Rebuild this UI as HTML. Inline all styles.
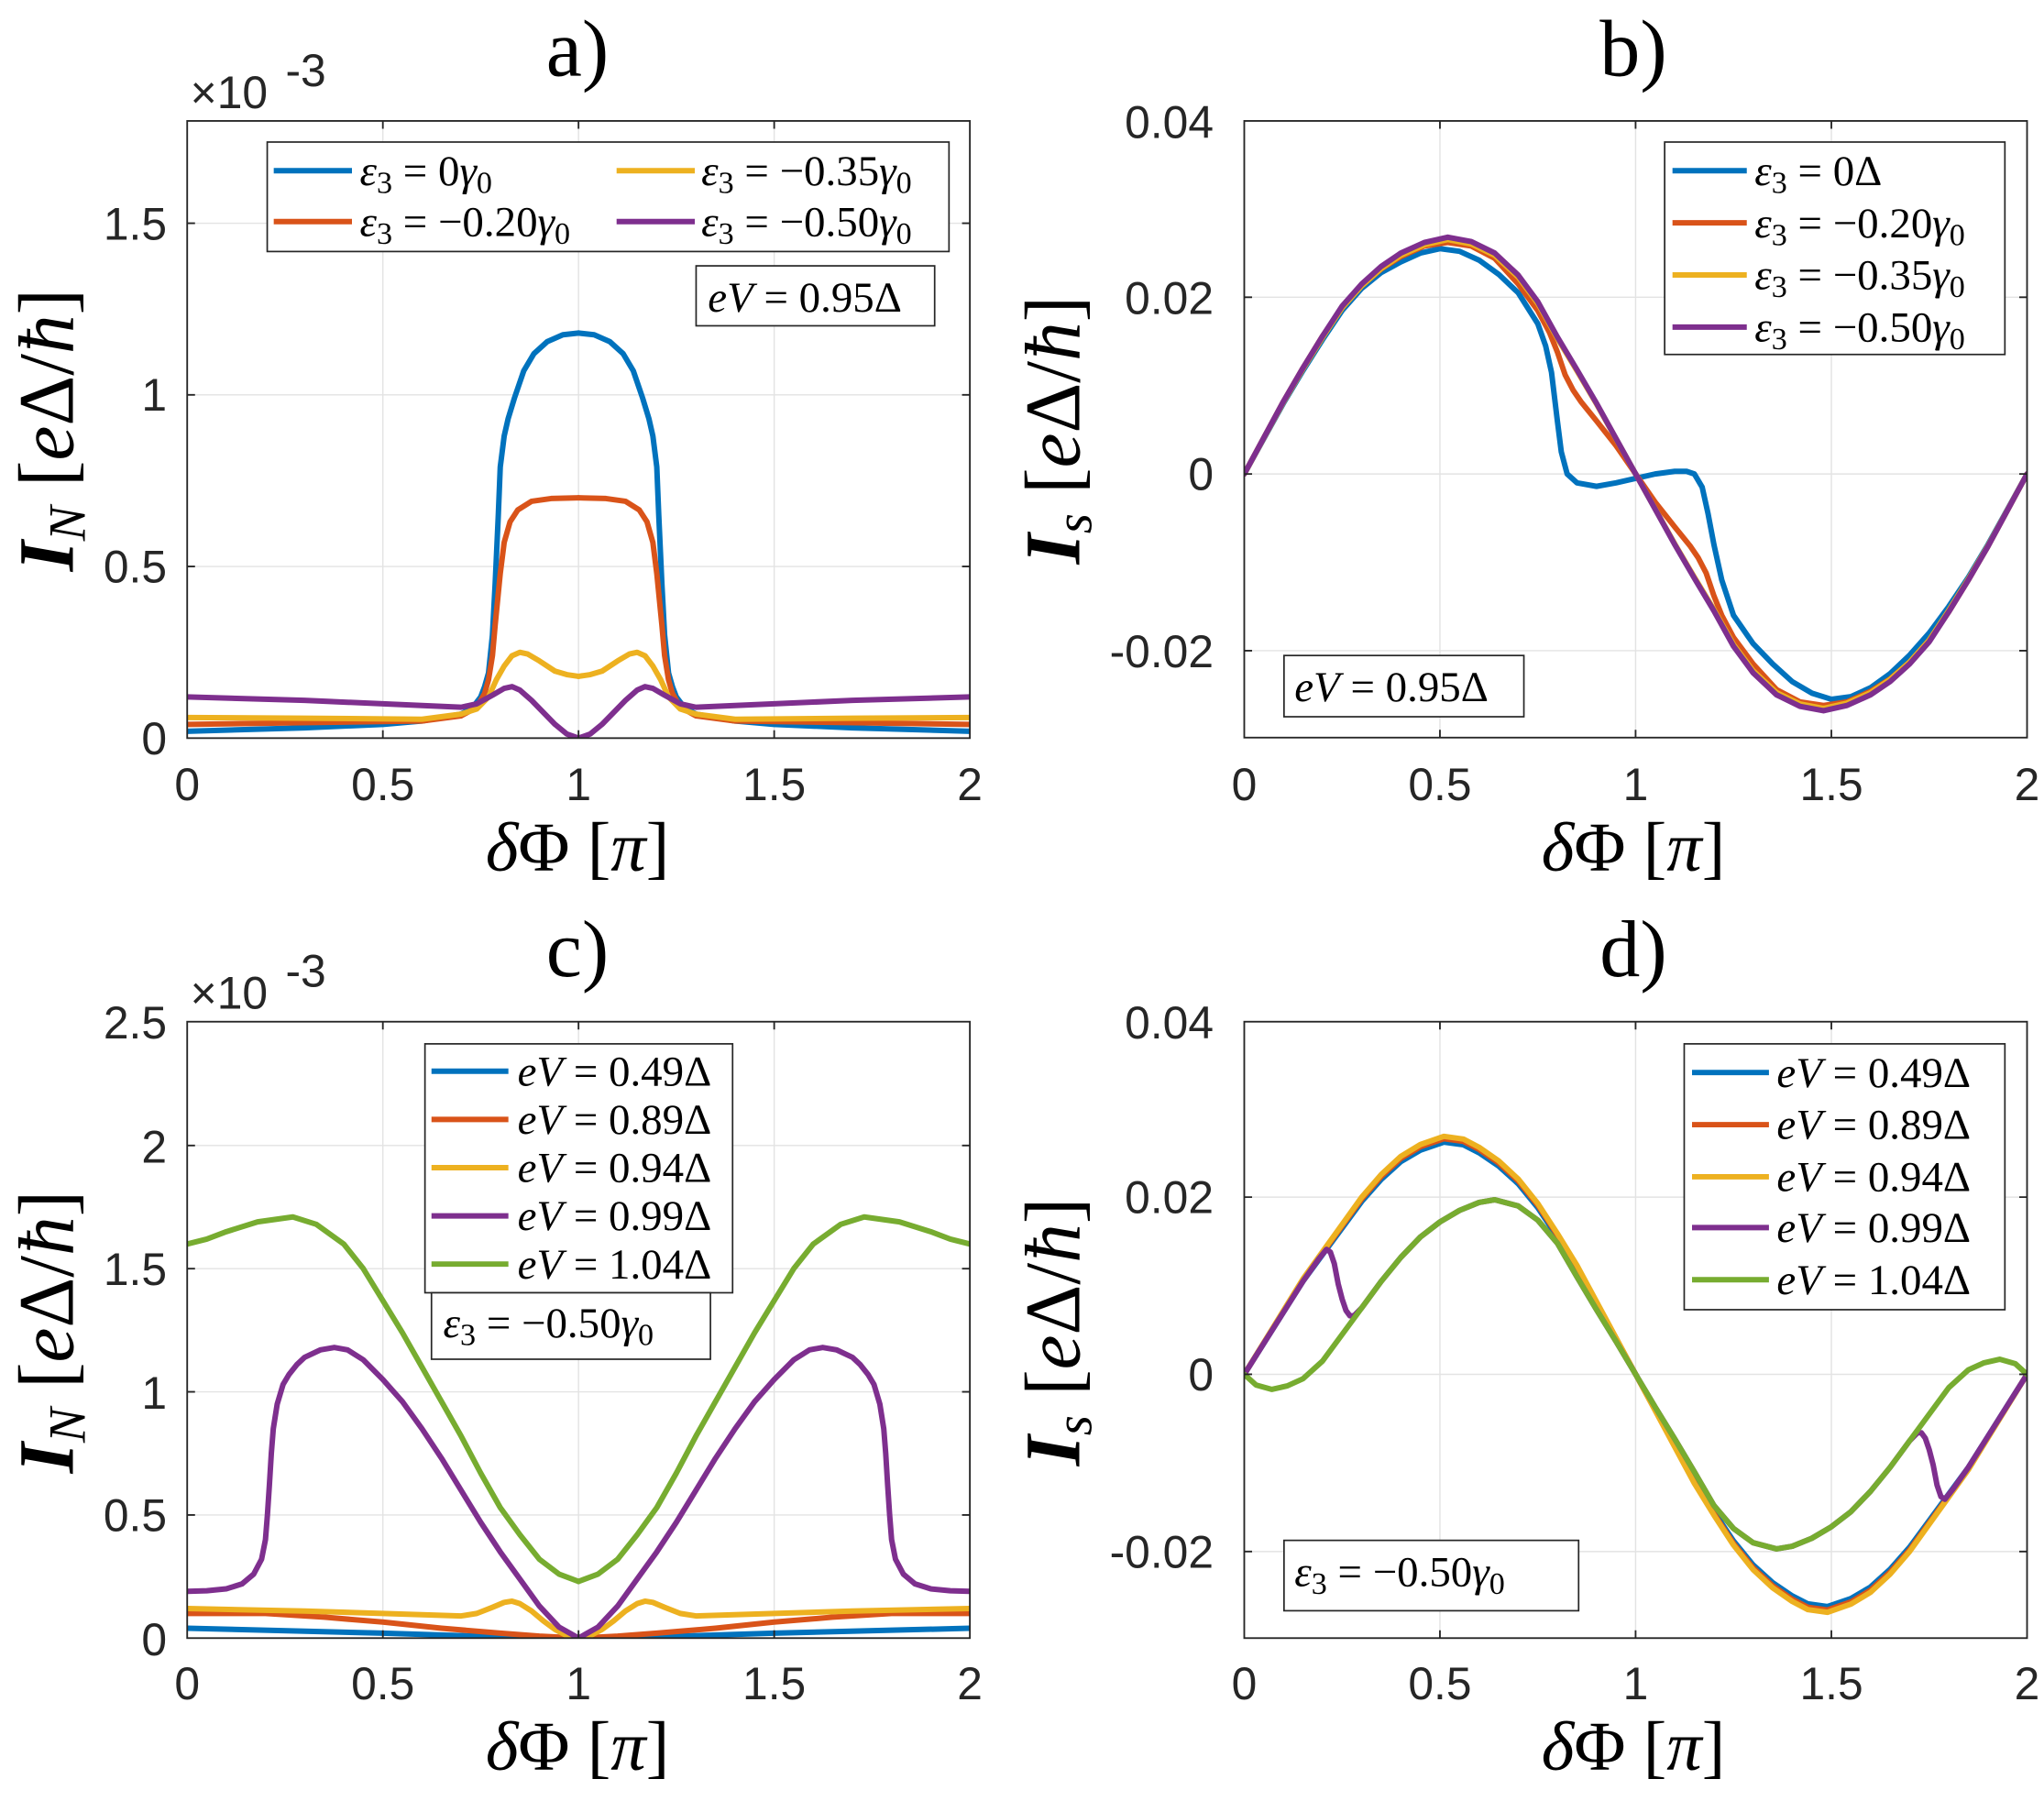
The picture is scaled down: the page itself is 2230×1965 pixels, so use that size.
<!DOCTYPE html>
<html><head><meta charset="utf-8">
<style>
html,body{margin:0;padding:0;background:#fff;}
svg{display:block;}
.tk{font-family:"Liberation Sans",sans-serif;font-size:35px;fill:#262626;}
.sr{font-family:"Liberation Serif",serif;fill:#000;}
.it{font-style:italic;}
defs path{vector-effect:non-scaling-stroke;fill:none;stroke-width:6;stroke-linejoin:round;stroke-linecap:round;}
</style></head>
<body>
<svg width="2230" height="1965" viewBox="0 0 1568 1382" preserveAspectRatio="none" xmlns="http://www.w3.org/2000/svg" xmlns:xlink="http://www.w3.org/1999/xlink">
<rect width="1568" height="1382" fill="#fff"/>
<defs>
<clipPath id="ca"><rect x="143.6" y="92.8" width="600.4" height="473.6"/></clipPath>
<clipPath id="cb"><rect x="954.5" y="92.8" width="600.5" height="473.2"/></clipPath>
<clipPath id="cc"><rect x="143.6" y="784" width="600.4" height="473"/></clipPath>
<clipPath id="cd"><rect x="954.5" y="784" width="600.5" height="473"/></clipPath>
<path id="aB" vector-effect="non-scaling-stroke" fill="none" d="M0,0.02 L0.3,0.03 0.5,0.04 0.6,0.05 0.65,0.06 0.7,0.07 0.73,0.09 0.75,0.12 0.76,0.15 0.77,0.19 0.78,0.3 0.787,0.45 0.795,0.65 0.80,0.79 0.81,0.88 0.82,0.93 0.836,0.99 0.86,1.07 0.886,1.12 0.92,1.155 0.96,1.175 1,1.18"/>
<path id="aO" vector-effect="non-scaling-stroke" fill="none" d="M0,0.04 L0.6,0.05 0.7,0.065 0.74,0.09 0.76,0.13 0.77,0.17 0.78,0.24 0.787,0.33 0.80,0.48 0.81,0.57 0.825,0.63 0.845,0.665 0.88,0.69 0.93,0.698 1,0.70"/>
<path id="aY" vector-effect="non-scaling-stroke" fill="none" d="M0,0.06 L0.3,0.058 0.6,0.055 0.7,0.07 0.74,0.085 0.77,0.12 0.79,0.17 0.81,0.21 0.83,0.24 0.85,0.25 0.87,0.245 0.9,0.225 0.94,0.195 0.97,0.185 1,0.18"/>
<path id="aP" vector-effect="non-scaling-stroke" fill="none" d="M0,0.12 L0.3,0.11 0.6,0.095 0.7,0.09 0.74,0.1 0.78,0.125 0.81,0.145 0.83,0.15 0.85,0.14 0.88,0.11 0.91,0.075 0.94,0.04 0.97,0.012 1,0"/>
<path id="bB" vector-effect="non-scaling-stroke" fill="none" d="M0,0 L0.05,0.4 0.1,0.8 0.15,1.17 0.2,1.52 0.25,1.85 0.3,2.1 0.35,2.28 0.4,2.4 0.45,2.5 0.5,2.55 0.55,2.52 0.6,2.42 0.65,2.26 0.7,2.05 0.75,1.7 0.77,1.45 0.785,1.15 0.8,0.6 0.81,0.25 0.825,0.0 0.85,-0.1 0.9,-0.14 0.95,-0.1 1,-0.05 1.05,0.0 1.1,0.03 1.13,0.03 1.15,0.0 1.17,-0.15 1.185,-0.45 1.2,-0.8 1.22,-1.2 1.25,-1.6 1.3,-1.92 1.35,-2.15 1.4,-2.35 1.45,-2.48 1.5,-2.55 1.55,-2.52 1.6,-2.42 1.65,-2.26 1.7,-2.05 1.75,-1.8 1.8,-1.5 1.85,-1.17 1.9,-0.8 1.95,-0.4 2,0"/>
<path id="bP" vector-effect="non-scaling-stroke" fill="none" d="M0,0 L0.05,0.41 0.1,0.82 0.15,1.2 0.2,1.56 0.25,1.9 0.3,2.15 0.35,2.35 0.4,2.5 0.46,2.62 0.52,2.68 0.58,2.63 0.64,2.5 0.7,2.25 0.75,1.95 0.8,1.55 0.85,1.18 0.9,0.8 0.95,0.4 1,0"/>
<path id="bO" vector-effect="non-scaling-stroke" fill="none" d="M0,0 L0.05,0.41 0.1,0.82 0.15,1.2 0.2,1.56 0.25,1.88 0.3,2.13 0.35,2.32 0.4,2.46 0.46,2.58 0.52,2.62 0.58,2.58 0.64,2.44 0.7,2.15 0.75,1.85 0.78,1.6 0.8,1.38 0.82,1.12 0.84,0.95 0.86,0.82 0.9,0.6 0.95,0.32 1,0"/>
<path id="cB" vector-effect="non-scaling-stroke" fill="none" d="M0,0.04 L0.5,0.02 0.8,0.005 1,0"/>
<path id="cO" vector-effect="non-scaling-stroke" fill="none" d="M0,0.1 L0.2,0.1 0.35,0.085 0.5,0.065 0.65,0.04 0.8,0.02 0.9,0.008 1,0"/>
<path id="cY" vector-effect="non-scaling-stroke" fill="none" d="M0,0.12 L0.3,0.11 0.5,0.1 0.7,0.09 0.74,0.1 0.78,0.125 0.81,0.145 0.83,0.15 0.85,0.14 0.88,0.11 0.91,0.07 0.94,0.035 0.97,0.01 1,0"/>
<path id="cP" vector-effect="non-scaling-stroke" fill="none" d="M0,0.19 L0.05,0.192 0.1,0.2 0.14,0.22 0.17,0.26 0.19,0.32 0.2,0.4 0.205,0.5 0.21,0.62 0.215,0.75 0.22,0.85 0.23,0.95 0.245,1.03 0.26,1.07 0.28,1.11 0.3,1.14 0.34,1.17 0.376,1.18 0.41,1.17 0.45,1.13 0.5,1.05 0.55,0.96 0.6,0.85 0.65,0.73 0.7,0.6 0.75,0.47 0.8,0.35 0.85,0.24 0.9,0.13 0.95,0.045 1,0"/>
<path id="cG" vector-effect="non-scaling-stroke" fill="none" d="M0,1.6 L0.05,1.62 0.1,1.65 0.18,1.69 0.27,1.71 0.33,1.68 0.4,1.6 0.45,1.5 0.5,1.37 0.55,1.24 0.6,1.1 0.65,0.96 0.7,0.82 0.75,0.67 0.8,0.53 0.85,0.42 0.9,0.32 0.95,0.26 1,0.23"/>
<path id="dS" vector-effect="non-scaling-stroke" fill="none" d="M0,0 L0.05,0.35 0.1,0.7 0.15,1.05 0.21,1.41 0.25,1.65 0.3,1.95 0.35,2.2 0.4,2.4 0.45,2.53 0.51,2.62 0.56,2.59 0.6,2.5 0.65,2.35 0.7,2.15 0.75,1.88 0.8,1.55 0.85,1.2 0.9,0.8 0.95,0.4 1,0"/>
<path id="dG" vector-effect="non-scaling-stroke" fill="none" d="M0,0 L0.03,-0.12 0.07,-0.17 0.11,-0.13 0.15,-0.05 0.2,0.15 0.25,0.45 0.3,0.75 0.35,1.05 0.4,1.32 0.45,1.55 0.5,1.72 0.55,1.85 0.6,1.94 0.64,1.97 0.7,1.9 0.75,1.74 0.8,1.48 0.85,1.1 0.9,0.73 0.95,0.37 1,0"/>
<path id="dP" vector-effect="non-scaling-stroke" fill="none" d="M0,0 L0.05,0.35 0.1,0.7 0.15,1.05 0.19,1.3 0.21,1.41 0.22,1.38 0.23,1.25 0.24,1.02 0.25,0.85 0.26,0.72 0.27,0.66 0.28,0.66 0.3,0.75 0.35,1.05 0.4,1.32 0.45,1.55 0.5,1.72 0.55,1.85 0.6,1.94 0.64,1.97 0.7,1.9 0.75,1.74 0.8,1.48 0.85,1.1 0.9,0.73 0.95,0.37 1,0"/>
</defs>

<!-- grid -->
<g stroke="#e3e3e3" stroke-width="1" fill="none">
<path d="M293.7,92.8V566.4M443.8,92.8V566.4M593.9,92.8V566.4M143.6,434.7H744M143.6,303H744M143.6,171.3H744"/>
<path d="M1104.6,92.8V566M1254.7,92.8V566M1404.9,92.8V566M954.5,228.1H1555M954.5,363.7H1555M954.5,499.3H1555"/>
<path d="M293.7,784V1257M443.8,784V1257M593.9,784V1257M143.6,1162.5H744M143.6,1068H744M143.6,973.5H744M143.6,879H744"/>
<path d="M1104.6,784V1257M1254.7,784V1257M1404.9,784V1257M954.5,918.6H1555M954.5,1054.6H1555M954.5,1190.6H1555"/>
</g>

<!-- curves -->
<g fill="none" stroke-width="6">
<g clip-path="url(#ca)"><g transform="translate(143.6,566.4) scale(300.2,-263.4)">
<use xlink:href="#aB" stroke="#0072BD"/><use xlink:href="#aB" stroke="#0072BD" transform="translate(2,0) scale(-1,1)"/>
<use xlink:href="#aO" stroke="#D95319"/><use xlink:href="#aO" stroke="#D95319" transform="translate(2,0) scale(-1,1)"/>
<use xlink:href="#aY" stroke="#EDB120"/><use xlink:href="#aY" stroke="#EDB120" transform="translate(2,0) scale(-1,1)"/>
<use xlink:href="#aP" stroke="#7E2F8E"/><use xlink:href="#aP" stroke="#7E2F8E" transform="translate(2,0) scale(-1,1)"/>
</g></g>
<g clip-path="url(#cb)"><g transform="translate(954.5,363.7) scale(300.25,-67.8)">
<use xlink:href="#bB" stroke="#0072BD"/>
<use xlink:href="#bO" stroke="#D95319"/><use xlink:href="#bO" stroke="#D95319" transform="translate(2,0) scale(-1,-1)"/>
<g transform="scale(1,0.99)"><use xlink:href="#bP" stroke="#EDB120"/><use xlink:href="#bP" stroke="#EDB120" transform="translate(2,0) scale(-1,-1)"/></g>
<use xlink:href="#bP" stroke="#7E2F8E"/><use xlink:href="#bP" stroke="#7E2F8E" transform="translate(2,0) scale(-1,-1)"/>
</g></g>
<g clip-path="url(#cc)"><g transform="translate(143.6,1257) scale(300.2,-189)">
<use xlink:href="#cB" stroke="#0072BD"/><use xlink:href="#cB" stroke="#0072BD" transform="translate(2,0) scale(-1,1)"/>
<use xlink:href="#cO" stroke="#D95319"/><use xlink:href="#cO" stroke="#D95319" transform="translate(2,0) scale(-1,1)"/>
<use xlink:href="#cY" stroke="#EDB120"/><use xlink:href="#cY" stroke="#EDB120" transform="translate(2,0) scale(-1,1)"/>
<use xlink:href="#cP" stroke="#7E2F8E"/><use xlink:href="#cP" stroke="#7E2F8E" transform="translate(2,0) scale(-1,1)"/>
<use xlink:href="#cG" stroke="#77AC30"/><use xlink:href="#cG" stroke="#77AC30" transform="translate(2,0) scale(-1,1)"/>
</g></g>
<g clip-path="url(#cd)"><g transform="translate(954.5,1054.6) scale(300.25,-68)">
<use xlink:href="#dS" stroke="#0072BD"/><use xlink:href="#dS" stroke="#0072BD" transform="translate(2,0) scale(-1,-1)"/>
<g transform="scale(1,1.015)"><use xlink:href="#dS" stroke="#D95319"/><use xlink:href="#dS" stroke="#D95319" transform="translate(2,0) scale(-1,-1)"/></g>
<g transform="scale(1,1.025)"><use xlink:href="#dS" stroke="#EDB120"/><use xlink:href="#dS" stroke="#EDB120" transform="translate(2,0) scale(-1,-1)"/></g>
<use xlink:href="#dP" stroke="#7E2F8E"/><use xlink:href="#dP" stroke="#7E2F8E" transform="translate(2,0) scale(-1,-1)"/>
<use xlink:href="#dG" stroke="#77AC30"/><use xlink:href="#dG" stroke="#77AC30" transform="translate(2,0) scale(-1,-1)"/>
</g></g>
</g>

<!-- axes -->
<g stroke="#262626" stroke-width="1.3" fill="none">
<rect x="143.6" y="92.8" width="600.4" height="473.6"/>
<rect x="954.5" y="92.8" width="600.5" height="473.2"/>
<rect x="143.6" y="784" width="600.4" height="473"/>
<rect x="954.5" y="784" width="600.5" height="473"/>
<path d="M293.7,566.4v-6M443.8,566.4v-6M593.9,566.4v-6M293.7,92.8v6M443.8,92.8v6M593.9,92.8v6M143.6,434.7h6M143.6,303h6M143.6,171.3h6M744,434.7h-6M744,303h-6M744,171.3h-6"/>
<path d="M1104.6,566v-6M1254.7,566v-6M1404.9,566v-6M1104.6,92.8v6M1254.7,92.8v6M1404.9,92.8v6M954.5,228.1h6M954.5,363.7h6M954.5,499.3h6M1555,228.1h-6M1555,363.7h-6M1555,499.3h-6"/>
<path d="M293.7,1257v-6M443.8,1257v-6M593.9,1257v-6M293.7,784v6M443.8,784v6M593.9,784v6M143.6,1162.5h6M143.6,1068h6M143.6,973.5h6M143.6,879h6M744,1162.5h-6M744,1068h-6M744,973.5h-6M744,879h-6"/>
<path d="M1104.6,1257v-6M1254.7,1257v-6M1404.9,1257v-6M1104.6,784v6M1254.7,784v6M1404.9,784v6M954.5,918.6h6M954.5,1054.6h6M954.5,1190.6h6M1555,918.6h-6M1555,1054.6h-6M1555,1190.6h-6"/>
</g>

<!-- titles -->
<text class="sr" x="443" y="58" font-size="62" text-anchor="middle">a)</text>
<text class="sr" x="1253" y="58" font-size="62" text-anchor="middle">b)</text>
<text class="sr" x="443" y="749" font-size="62" text-anchor="middle">c)</text>
<text class="sr" x="1253" y="749" font-size="62" text-anchor="middle">d)</text>

<text class="tk" x="146" y="83" font-size="33">×10</text><text class="tk" x="219" y="66" font-size="29">-3</text>
<text class="tk" x="146" y="774" font-size="33">×10</text><text class="tk" x="219" y="757" font-size="29">-3</text>

<g class="tk" text-anchor="middle">
<text x="143.6" y="614">0</text><text x="293.7" y="614">0.5</text><text x="443.8" y="614">1</text><text x="593.9" y="614">1.5</text><text x="744" y="614">2</text>
<text x="954.5" y="614">0</text><text x="1104.6" y="614">0.5</text><text x="1254.7" y="614">1</text><text x="1404.9" y="614">1.5</text><text x="1555" y="614">2</text>
<text x="143.6" y="1304">0</text><text x="293.7" y="1304">0.5</text><text x="443.8" y="1304">1</text><text x="593.9" y="1304">1.5</text><text x="744" y="1304">2</text>
<text x="954.5" y="1304">0</text><text x="1104.6" y="1304">0.5</text><text x="1254.7" y="1304">1</text><text x="1404.9" y="1304">1.5</text><text x="1555" y="1304">2</text>
</g>
<g class="tk" text-anchor="end">
<text x="128" y="579">0</text><text x="128" y="447">0.5</text><text x="128" y="315">1</text><text x="128" y="184">1.5</text>
<text x="931" y="106">0.04</text><text x="931" y="241">0.02</text><text x="931" y="376">0</text><text x="931" y="512">-0.02</text>
<text x="128" y="1270">0</text><text x="128" y="1175">0.5</text><text x="128" y="1081">1</text><text x="128" y="986">1.5</text><text x="128" y="892">2</text><text x="128" y="797">2.5</text>
<text x="931" y="797">0.04</text><text x="931" y="931">0.02</text><text x="931" y="1067">0</text><text x="931" y="1203">-0.02</text>
</g>

<g class="sr" font-size="54" text-anchor="middle" fill="#262626">
<text x="443" y="668"><tspan class="it">δ</tspan>Φ [<tspan class="it">π</tspan>]</text>
<text x="1253" y="668"><tspan class="it">δ</tspan>Φ [<tspan class="it">π</tspan>]</text>
<text x="443" y="1358"><tspan class="it">δ</tspan>Φ [<tspan class="it">π</tspan>]</text>
<text x="1253" y="1358"><tspan class="it">δ</tspan>Φ [<tspan class="it">π</tspan>]</text>
</g>
<g class="sr" font-size="60" text-anchor="middle" fill="#262626">
<text transform="translate(56,330) rotate(-90)"><tspan class="it" font-weight="bold">I</tspan><tspan class="it" font-size="40" dy="9">N</tspan><tspan dy="-9"> [</tspan><tspan class="it">e</tspan>Δ/<tspan class="it">ħ</tspan>]</text>
<text transform="translate(828,330) rotate(-90)"><tspan class="it" font-weight="bold">I</tspan><tspan class="it" font-size="40" dy="9">s</tspan><tspan dy="-9"> [</tspan><tspan class="it">e</tspan>Δ/<tspan class="it">ħ</tspan>]</text>
<text transform="translate(56,1022) rotate(-90)"><tspan class="it" font-weight="bold">I</tspan><tspan class="it" font-size="40" dy="9">N</tspan><tspan dy="-9"> [</tspan><tspan class="it">e</tspan>Δ/<tspan class="it">ħ</tspan>]</text>
<text transform="translate(828,1022) rotate(-90)"><tspan class="it" font-weight="bold">I</tspan><tspan class="it" font-size="40" dy="9">s</tspan><tspan dy="-9"> [</tspan><tspan class="it">e</tspan>Δ/<tspan class="it">ħ</tspan>]</text>
</g>

<!-- legends -->
<g stroke="#262626" stroke-width="1.2" fill="#fff">
<rect x="205" y="109" width="523" height="84"/>
<rect x="534" y="204" width="183" height="46"/>
<rect x="1277" y="109" width="261" height="163"/>
<rect x="985" y="503" width="184" height="47"/>
<rect x="326" y="801" width="236" height="191"/>
<rect x="331" y="992" width="214" height="51"/>
<rect x="1292" y="801" width="246" height="204"/>
<rect x="985" y="1182" width="226" height="54"/>
</g>
<g stroke-width="4.2">
<line x1="210" y1="131" x2="270" y2="131" stroke="#0072BD"/>
<line x1="210" y1="170" x2="270" y2="170" stroke="#D95319"/>
<line x1="473" y1="131" x2="533" y2="131" stroke="#EDB120"/>
<line x1="473" y1="170" x2="533" y2="170" stroke="#7E2F8E"/>
<line x1="1283" y1="131" x2="1340" y2="131" stroke="#0072BD"/>
<line x1="1283" y1="171" x2="1340" y2="171" stroke="#D95319"/>
<line x1="1283" y1="211" x2="1340" y2="211" stroke="#EDB120"/>
<line x1="1283" y1="251" x2="1340" y2="251" stroke="#7E2F8E"/>
<line x1="331" y1="822" x2="390" y2="822" stroke="#0072BD"/>
<line x1="331" y1="859" x2="390" y2="859" stroke="#D95319"/>
<line x1="331" y1="896" x2="390" y2="896" stroke="#EDB120"/>
<line x1="331" y1="933" x2="390" y2="933" stroke="#7E2F8E"/>
<line x1="331" y1="970" x2="390" y2="970" stroke="#77AC30"/>
<line x1="1298" y1="823" x2="1357" y2="823" stroke="#0072BD"/>
<line x1="1298" y1="863" x2="1357" y2="863" stroke="#D95319"/>
<line x1="1298" y1="903" x2="1357" y2="903" stroke="#EDB120"/>
<line x1="1298" y1="942" x2="1357" y2="942" stroke="#7E2F8E"/>
<line x1="1298" y1="982" x2="1357" y2="982" stroke="#77AC30"/>
</g>
<g class="sr" font-size="33">
<text x="276" y="142"><tspan class="it">ε</tspan><tspan font-size="24" dy="6">3</tspan><tspan dy="-6"> = 0</tspan><tspan class="it">γ</tspan><tspan font-size="24" dy="6">0</tspan></text>
<text x="276" y="181"><tspan class="it">ε</tspan><tspan font-size="24" dy="6">3</tspan><tspan dy="-6"> = −0.20</tspan><tspan class="it">γ</tspan><tspan font-size="24" dy="6">0</tspan></text>
<text x="538" y="142"><tspan class="it">ε</tspan><tspan font-size="24" dy="6">3</tspan><tspan dy="-6"> = −0.35</tspan><tspan class="it">γ</tspan><tspan font-size="24" dy="6">0</tspan></text>
<text x="538" y="181"><tspan class="it">ε</tspan><tspan font-size="24" dy="6">3</tspan><tspan dy="-6"> = −0.50</tspan><tspan class="it">γ</tspan><tspan font-size="24" dy="6">0</tspan></text>
<text x="543" y="239"><tspan class="it">eV</tspan> = 0.95Δ</text>
<text x="1346" y="142"><tspan class="it">ε</tspan><tspan font-size="24" dy="6">3</tspan><tspan dy="-6"> = 0Δ</tspan></text>
<text x="1346" y="182"><tspan class="it">ε</tspan><tspan font-size="24" dy="6">3</tspan><tspan dy="-6"> = −0.20</tspan><tspan class="it">γ</tspan><tspan font-size="24" dy="6">0</tspan></text>
<text x="1346" y="222"><tspan class="it">ε</tspan><tspan font-size="24" dy="6">3</tspan><tspan dy="-6"> = −0.35</tspan><tspan class="it">γ</tspan><tspan font-size="24" dy="6">0</tspan></text>
<text x="1346" y="262"><tspan class="it">ε</tspan><tspan font-size="24" dy="6">3</tspan><tspan dy="-6"> = −0.50</tspan><tspan class="it">γ</tspan><tspan font-size="24" dy="6">0</tspan></text>
<text x="993" y="538"><tspan class="it">eV</tspan> = 0.95Δ</text>
<text x="397" y="833"><tspan class="it">eV</tspan> = 0.49Δ</text>
<text x="397" y="870"><tspan class="it">eV</tspan> = 0.89Δ</text>
<text x="397" y="907"><tspan class="it">eV</tspan> = 0.94Δ</text>
<text x="397" y="944"><tspan class="it">eV</tspan> = 0.99Δ</text>
<text x="397" y="981"><tspan class="it">eV</tspan> = 1.04Δ</text>
<text x="340" y="1026"><tspan class="it">ε</tspan><tspan font-size="24" dy="6">3</tspan><tspan dy="-6"> = −0.50</tspan><tspan class="it">γ</tspan><tspan font-size="24" dy="6">0</tspan></text>
<text x="1363" y="834"><tspan class="it">eV</tspan> = 0.49Δ</text>
<text x="1363" y="874"><tspan class="it">eV</tspan> = 0.89Δ</text>
<text x="1363" y="914"><tspan class="it">eV</tspan> = 0.94Δ</text>
<text x="1363" y="953"><tspan class="it">eV</tspan> = 0.99Δ</text>
<text x="1363" y="993"><tspan class="it">eV</tspan> = 1.04Δ</text>
<text x="993" y="1217"><tspan class="it">ε</tspan><tspan font-size="24" dy="6">3</tspan><tspan dy="-6"> = −0.50</tspan><tspan class="it">γ</tspan><tspan font-size="24" dy="6">0</tspan></text>
</g>
</svg>
</body></html>
